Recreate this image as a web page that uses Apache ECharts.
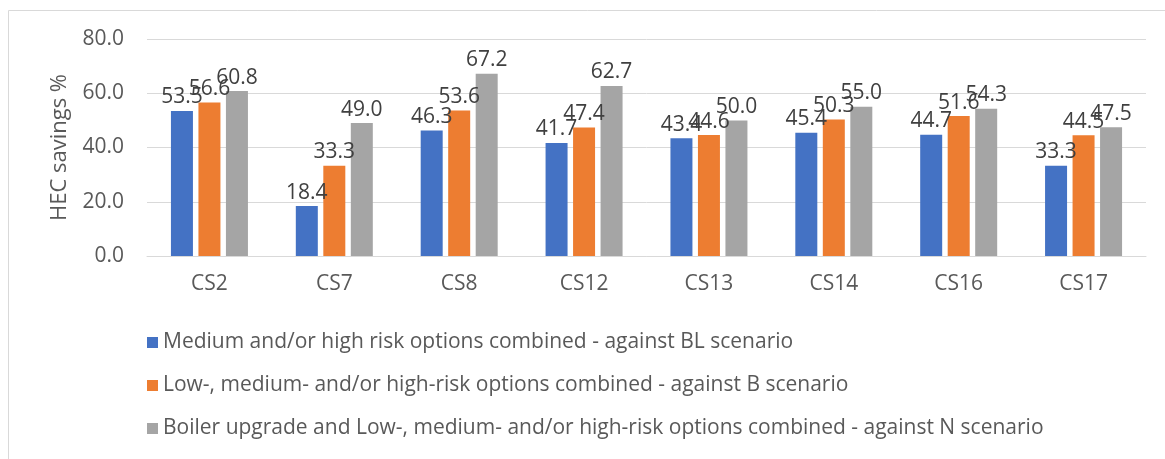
<!DOCTYPE html>
<html><head><meta charset="utf-8">
<script src="https://cdn.jsdelivr.net/npm/echarts@6/dist/echarts.min.js"></script>
<style>html,body{margin:0;padding:0;background:#fff}#c{width:1165px;height:459px}</style>
</head><body><div id="c"></div>
<script>
const categories = ['CS2','CS7','CS8','CS12','CS13','CS14','CS16','CS17'];
const seriesNames = [
  'Medium and/or high risk options combined - against BL scenario',
  'Low-, medium- and/or high-risk options combined - against B scenario',
  'Boiler upgrade and Low-, medium- and/or high-risk options combined - against N scenario'
];
const mediumHigh = [53.5, 18.4, 46.3, 41.7, 43.4, 45.4, 44.7, 33.3];
const lowMediumHigh = [56.6, 33.3, 53.6, 47.4, 44.6, 50.3, 51.6, 44.5];
const boilerUpgrade = [60.8, 49.0, 67.2, 62.7, 50.0, 55.0, 54.3, 47.5];
const colors = ['#4472C4', '#ED7D31', '#A5A5A5'];
const FONT = '"Open Sans", sans-serif';
const FS = 21;

const chart = echarts.init(document.getElementById('c'));
const mk = (name, data, color) => ({
  name, type: 'bar', data, barWidth: 22, barGap: '25%',
  itemStyle: { color },
  label: { show: true, position: 'top', distance: 3, color: '#404040', fontSize: FS, fontFamily: FONT,
           formatter: p => p.value.toFixed(1) }
});
chart.setOption({
  animation: false,
  graphic: [{ type: 'rect', shape: { x: 8.5, y: 10.5, width: 1200, height: 500 },
              style: { fill: 'none', stroke: '#d9d9d9', lineWidth: 1 } }],
  grid: { left: 147, right: 19, top: 39, bottom: 203 },
  legend: {
    orient: 'vertical', left: 142, top: 327, itemWidth: 11, itemHeight: 11, itemGap: 22,
    icon: 'rect', textStyle: { color: '#595959', fontSize: FS, fontFamily: FONT }
  },
  xAxis: {
    type: 'category', data: categories,
    axisLine: { lineStyle: { color: '#d9d9d9' } }, axisTick: { show: false },
    axisLabel: { color: '#595959', fontSize: FS, fontFamily: FONT, margin: 18 }
  },
  yAxis: {
    type: 'value', min: 0, max: 80, interval: 20,
    name: 'HEC savings %', nameLocation: 'middle', nameGap: 76,
    nameTextStyle: { color: '#595959', fontSize: 22, fontFamily: FONT },
    axisLabel: { color: '#595959', fontSize: FS, fontFamily: FONT, margin: 23, formatter: v => v.toFixed(1) },
    splitLine: { lineStyle: { color: '#d9d9d9' } }
  },
  series: [mk(seriesNames[0], mediumHigh, colors[0]), mk(seriesNames[1], lowMediumHigh, colors[1]), mk(seriesNames[2], boilerUpgrade, colors[2])]
});
</script></body></html>
